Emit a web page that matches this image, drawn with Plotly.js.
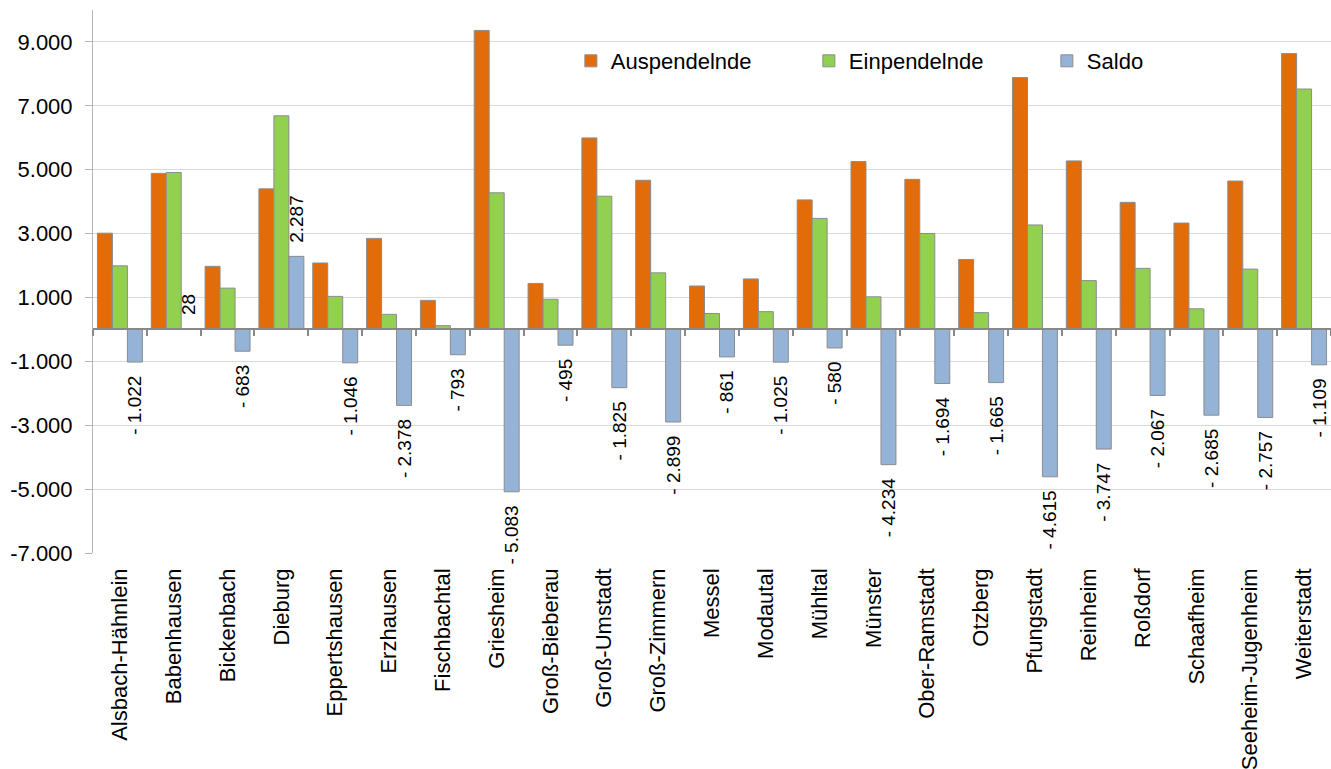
<!DOCTYPE html>
<html>
<head>
<meta charset="utf-8">
<script src="https://cdn.plot.ly/plotly-3.0.1.min.js"></script>
<style>
html,body{margin:0;padding:0;background:#fff;}
#chart{width:1331px;height:769px;}
</style>
</head>
<body>
<div id="chart"></div>
<script>
const categories = ["Alsbach-Hähnlein","Babenhausen","Bickenbach","Dieburg","Eppertshausen","Erzhausen","Fischbachtal","Griesheim","Groß-Bieberau","Groß-Umstadt","Groß-Zimmern","Messel","Modautal","Mühltal","Münster","Ober-Ramstadt","Otzberg","Pfungstadt","Reinheim","Roßdorf","Schaafheim","Seeheim-Jugenheim","Weiterstadt"];
const auspendelnde = [3012,4885,1975,4400,2080,2850,910,9360,1440,5995,4670,1360,1580,4055,5255,4698,2190,7885,5275,3978,3330,4645,8635];
const einpendelnde = [1990,4913,1292,6687,1034,472,117,4277,945,4170,1771,499,555,3475,1021,3004,525,3270,1528,1911,645,1888,7526];
const saldo = [-1022,28,-683,2287,-1046,-2378,-793,-5083,-495,-1825,-2899,-861,-1025,-580,-4234,-1694,-1665,-4615,-3747,-2067,-2685,-2757,-1109];
const yTickVals = [-7000,-5000,-3000,-1000,1000,3000,5000,7000,9000];
const yTickText = ["-7.000","-5.000","-3.000","-1.000","1.000","3.000","5.000","7.000","9.000"];

function thousands(n){ return String(n).replace(/\B(?=(\d{3})+(?!\d))/g, "."); }
const NB = "\u00a0";
const saldoText = saldo.map(v => v < 0 ? "- " + thousands(-v) + NB + NB : NB + NB + thousands(v));

const outline = {color:"#8c8c8c", width:1};
const FONT = "Liberation Sans, Arial, sans-serif";
const xRange = [-0.5, categories.length - 0.5];

const traces = [
  {type:"bar", name:"Auspendelnde", x:categories, y:auspendelnde, marker:{color:"#E36C0A", line:outline}, hoverinfo:"x+y"},
  {type:"bar", name:"Einpendelnde", x:categories, y:einpendelnde, marker:{color:"#92D050", line:outline}, hoverinfo:"x+y"},
  {type:"bar", name:"Saldo", x:categories, y:saldo, marker:{color:"#95B3D7", line:outline},
   text:saldoText, textposition:"outside", textangle:-90, constraintext:"none", cliponaxis:false,
   textfont:{family:FONT, size:19, color:"#000"}, hoverinfo:"x+y"},
  {type:"scatter", mode:"markers", x:categories, y:saldo, xaxis:"x2", yaxis:"y",
   marker:{opacity:0, size:1}, showlegend:false, hoverinfo:"skip"}
];

const layout = {
  width:1331, height:769,
  margin:{l:93, r:0, t:10, b:216, pad:0},
  paper_bgcolor:"#fff", plot_bgcolor:"#fff",
  font:{family:FONT, size:22, color:"#000"},
  barmode:"group", bargap:0.165, bargroupgap:0,
  showlegend:true,
  legend:{orientation:"h", x:0.386, xanchor:"left", y:0.906, yanchor:"middle",
          font:{family:FONT, size:22, color:"#000"}, bgcolor:"rgba(0,0,0,0)", entrywidth:193, itemwidth:30, traceorder:"normal"},
  xaxis:{type:"category", range:xRange, autorange:false, showline:false, ticks:"", showgrid:false, zeroline:false,
         tickangle:-90, tickfont:{family:FONT, size:22, color:"#000"}, ticklabelstandoff:10, automargin:false},
  xaxis2:{type:"category", matches:"x", overlaying:"x", anchor:"free", position:7000/17000, side:"bottom",
          showline:true, linecolor:"#888888", linewidth:2, ticks:"outside", tickson:"boundaries",
          ticklen:6, tickwidth:2, tickcolor:"#888888", showticklabels:false, showgrid:false, zeroline:false},
  yaxis:{range:[-7000,10000], tickvals:yTickVals, ticktext:yTickText, showgrid:true, gridcolor:"#d9d9d9", gridwidth:1,
         zeroline:false, showline:true, linecolor:"#b5b5b5", linewidth:1, ticks:"outside", ticklen:7, tickcolor:"#b5b5b5",
         tickfont:{family:FONT, size:22, color:"#000"}, ticklabelstandoff:8, automargin:false, fixedrange:true}
};

Plotly.newPlot("chart", traces, layout, {displayModeBar:false, staticPlot:true});
</script>
</body>
</html>
